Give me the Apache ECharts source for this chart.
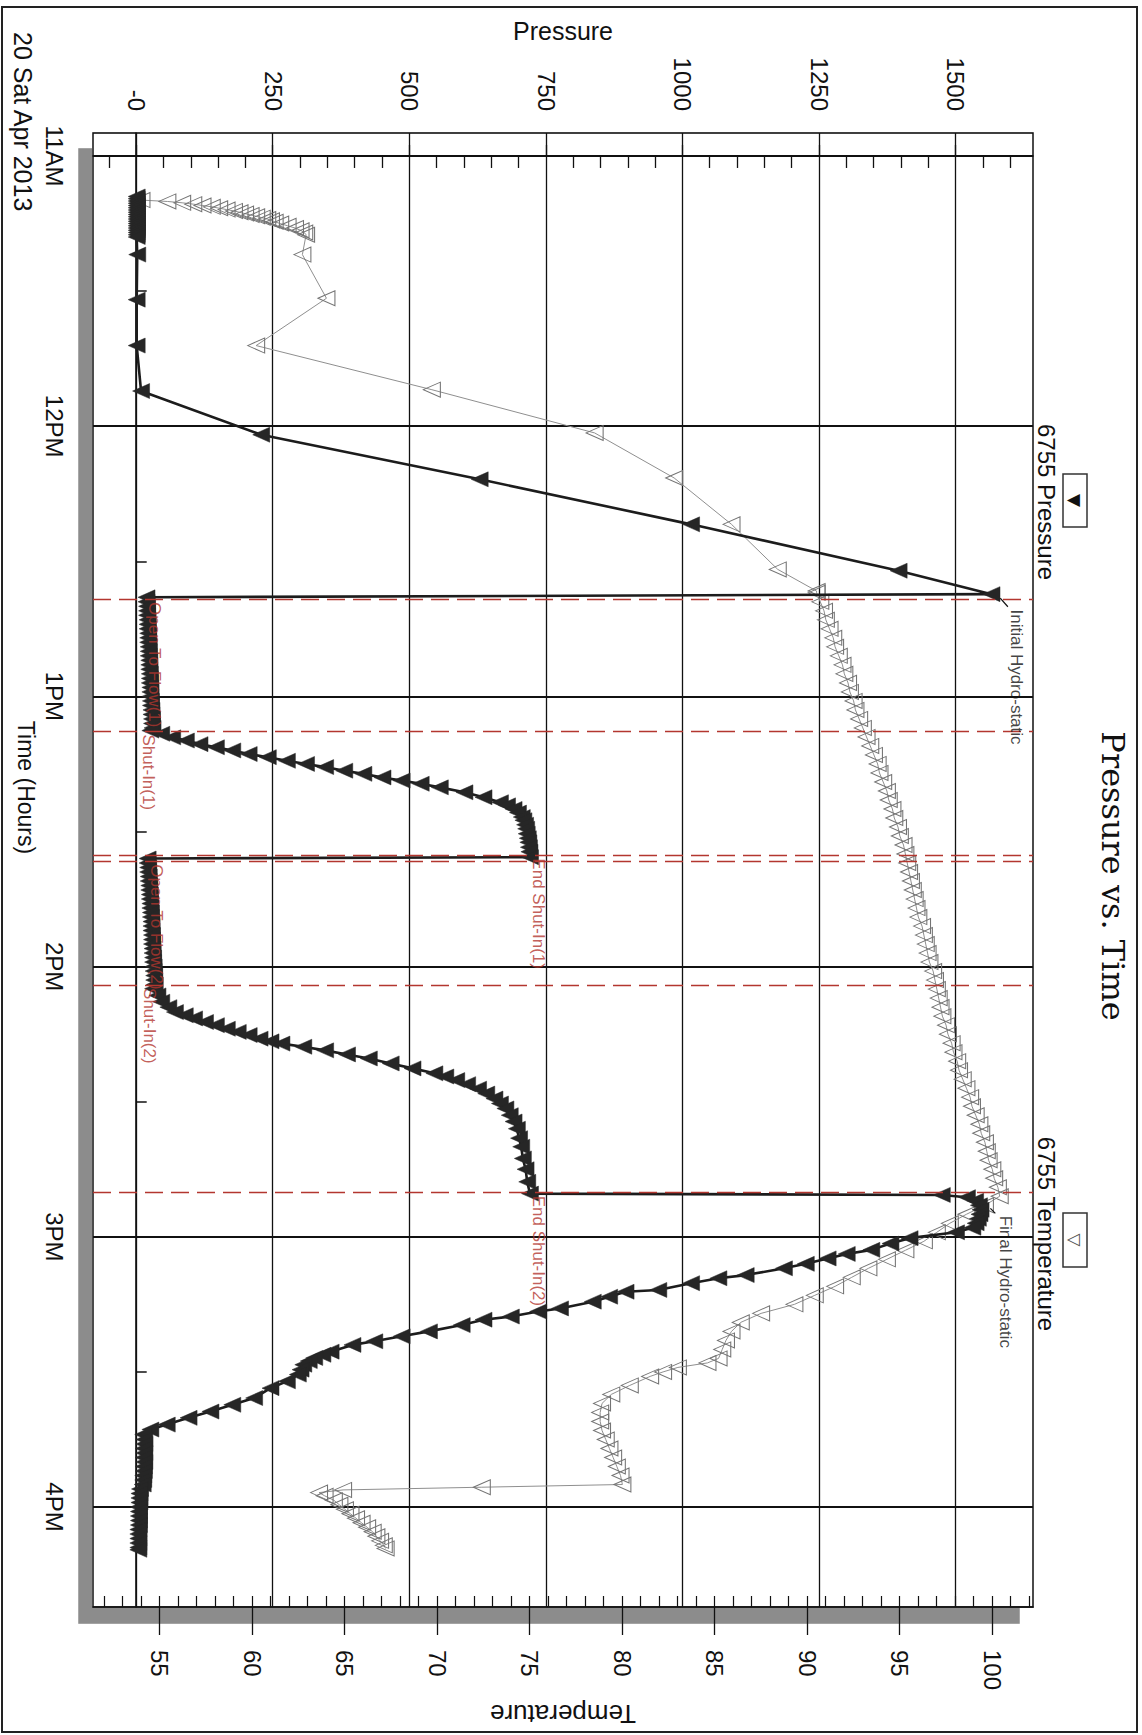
<!DOCTYPE html>
<html>
<head>
<meta charset="utf-8">
<script src="https://cdn.jsdelivr.net/npm/echarts@6/dist/echarts.min.js"></script>
<style>
html,body{margin:0;padding:0;background:#fff;overflow:hidden;width:1142px;height:1735px;}
#chart{position:absolute;left:0;top:0;width:1735px;height:1142px;transform-origin:0 0;transform:translate(1142px,0) rotate(90deg);background:#fff;}
</style>
</head>
<body>
<div id="chart"></div>
<script>
// ---------- axis ticks / labels (time in minutes after 11:00) ----------
const timeTicks = [0, 60, 120, 180, 240, 300];
const timeLabels = ['11AM', '12PM', '1PM', '2PM', '3PM', '4PM'];
const timeMinorTicks = [30, 90, 150, 210, 270];
const pressureTicks = [0, 250, 500, 750, 1000, 1250, 1500];
const pressureLabels = ['-0', '250', '500', '750', '1000', '1250', '1500'];
const pressureMinorTicks = [-50, 50, 100, 150, 200, 300, 350, 400, 450, 550, 600, 650, 700, 800, 850, 900, 950, 1050, 1100, 1150, 1200, 1300, 1350, 1400, 1450, 1550, 1600];
const temperatureTicks = [55, 60, 65, 70, 75, 80, 85, 90, 95, 100];
const temperatureMinorTicks = [52, 53, 54, 55, 56, 57, 58, 59, 60, 61, 62, 63, 64, 65, 66, 67, 68, 69, 70, 71, 72, 73, 74, 75, 76, 77, 78, 79, 80, 81, 82, 83, 84, 85, 86, 87, 88, 89, 90, 91, 92, 93, 94, 95, 96, 97, 98, 99, 100, 101, 102];

// ---------- events ----------
const eventNames = ['Open To Flow(1)', 'Shut-In(1)', 'End Shut-In(1)', 'Open To Flow(2)', 'Shut-In(2)', 'End Shut-In(2)'];
const eventTimes = [98.4, 127.8, 155.3, 156.6, 184.1, 230.2];
const hydroNames = ['Initial Hydro-static', 'Final Hydro-static'];

// ---------- 6755 Pressure  [minutes after 11:00, psi] ----------
const pressureSurvey = [[9.0,0],[9.5,0],[10.0,0],[10.5,0],[11.0,0],[11.5,0],[12.0,0],[12.5,0],[13.0,0],[13.5,0],[14.0,0],[14.5,0],[15.0,0],[15.5,0],[16.0,0],[16.5,0],[17.0,0],[17.5,0],[18.0,0],
  [21.9,1],[31.9,0],[42.1,0],[52.2,8],[61.9,228],[71.8,628],[81.8,1015],[92.1,1395],[97.3,1565]];
const pressureFlow1 = [[98.0,18],[99,18],[100,19],[101,19],[102,19],[103,20],[104,20],[105,20],[106,21],[107,21],[108,21],[109,22],[110,22],[111,22],[112,23],[113,23],[114,23],[115,24],[116,24],[117,24],[118,25],[119,25],[120,25],[121,26],[122,26],[123,27],[124,27],[125,28],[126,28],[127,29]];
const pressureBuildup1 = [[127.6,25],[128.3,45],[129.1,65],[129.8,90],[130.6,115],[131.3,145],[132.0,175],[132.8,205],[133.5,240],[134.3,275],[135.0,310],[135.7,345],[136.5,380],[137.2,415],[138.0,450],[138.7,485],[139.4,520],[140.2,555],[141.3,600],[142.4,635],[143.5,665],[144.2,678],[145.0,690],[145.8,698],[146.8,705],[147.5,708],[148.5,711],[149.4,713],[150.5,714],[151.5,716],[152.4,717],[153.5,718],[154.5,719],[155.7,720]];
const pressureFlow2 = [[156.0,20],[157,20],[158,21],[159,21],[160,22],[161,22],[162,23],[163,23],[164,24],[165,24],[166,25],[167,25],[168,26],[169,26],[170,27],[171,27],[172,27],[173,28],[174,28],[175,28],[176,29],[177,29],[178,30],[179,30],[180,31],[181,31],[182,32],[183,32],[184,33]];
const pressureBuildup2 = [[184.9,30],[186.4,38],[187.8,45],[189.0,58],[190.1,70],[190.8,88],[191.5,105],[192.3,125],[193.0,145],[193.8,165],[194.5,185],[195.2,205],[196.0,225],[196.6,245],[197.1,265],[197.8,305],[198.6,345],[199.5,385],[200.4,425],[201.5,465],[202.6,505],[203.7,545],[204.4,565],[205.2,585],[206.1,605],[207.1,625],[208.2,640],[209.3,655],[210.4,665],[211.5,675],[213.0,683],[214.4,690],[216.0,696],[218.1,700],[220.0,704],[222.6,707],[225.0,712],[227.8,715],[230.4,720]];
const pressureFinal = [[230.7,1474],[231.2,1520],[232,1535],[233,1542],[234,1545],[235,1543],[236,1540],[237,1536],[238,1530],[239,1500]];
const pressurePullout = [[240.3,1415],[241.5,1380],[242.9,1345],[243.8,1300],[244.8,1265],[246.0,1225],[247.0,1185],[248.5,1115],[249.2,1065],[250.3,1015],[251.8,955],[252.2,895],[253.3,865],[254.4,835],[255.9,775],[256.6,735],[257.7,685],[258.4,635],[259.6,595],[261.0,535],[262.1,485],[263.2,435],[264.0,395],[265.5,355],[266.2,340],[266.9,325],[267.6,315],[268.4,305],[269.5,300],[270.6,295],[272.1,275],[273.6,245],[275.8,215],[277.3,175],[278.8,135],[280.2,95],[281.7,55],[282.8,25],[283.9,12]];
const pressureSurface = [[285,14],[286,14],[287,13],[288,14],[289,13],[290,14],[291,13],[292,13],[293,12],[294,12],[295,11],[296,6],[297,5],[298,5],[299,5],[300,4],[301,4],[302,4],[303,4],[304,4],[305,3],[306,3],[307,3],[308,3],[309,3],[309.5,3]];

// ---------- 6755 Temperature  [minutes after 11:00, deg] ----------
const temperatureSurvey = [[9.8,54.0],[10.1,55.4],[10.4,56.2],[10.7,56.8],[11.0,57.3],[11.3,57.8],[11.6,58.2],[11.9,58.6],[12.2,59.0],[12.5,59.3],[12.8,59.6],[13.1,59.9],[13.4,60.2],[13.7,60.5],[14.0,60.8],[14.3,61.0],[14.6,61.2],[15.0,61.5],[15.5,61.9],[16.0,62.3],[16.5,62.6],[17.0,62.8],[17.5,62.9],
  [21.9,62.7],[31.6,64.0],[42.1,60.2],[51.9,69.7],[61.5,78.5],[71.5,82.8],[81.8,85.9],[91.8,88.4],[96.6,90.5]];
const temperatureBand = [[97,90.5],[99,90.7],[101,90.9],[103,91.0],[105,91.2],[107,91.4],[109,91.5],[111,91.7],[113,91.9],[115,92.0],[117,92.2],[119,92.3],[121,92.5],[123,92.6],[125,92.8],[127,93.0],[129,93.2],[131,93.4],[133,93.6],[135,93.8],[137,93.9],[139,94.1],[141,94.3],[143,94.4],[145,94.6],[147,94.7],[149,94.9],[151,95.0],[153,95.2],[155,95.3],[157,95.4],[159,95.5],[161,95.6],[163,95.7],[165,95.8],[167,95.9],[169,96.0],[171,96.2],[173,96.3],[175,96.4],[177,96.5],[179,96.6],[181,96.8],[183,96.9],[185,97.0],[187,97.1],[189,97.2],[191,97.3],[193,97.5],[195,97.6],[197,97.8],[199,97.9],[201,98.1],[203,98.2],[205,98.4],[207,98.6],[209,98.8],[211,98.9],[213,99.1],[215,99.3],[217,99.4],[219,99.6],[221,99.7],[223,99.8],[225,100.0],[227,100.1],[229,100.3],[231,100.4]];
const temperatureDecline = [[233,99.6],[235,98.6],[237,97.7],[239,97.0],[241,96.3],[243,95.3],[245,94.3],[247,93.3],[249,92.4],[251,91.5],[253,90.4],[255,89.3],[257,87.5],[259,86.4],[261,85.9],[263,85.6],[265,85.4],[267,85.2],[268,84.6],[269,83.0],[270,82.2],[271,81.5],[273,80.4],[275,79.4],[277,78.9],[279,78.8],[281,78.8],[283,78.9],[285,79.1],[287,79.3],[289,79.5],[291,79.7],[293,79.9],[295,80.0]];
const temperatureSurface = [[295.6,72.4],[296.2,64.9],[296.8,63.6],[297.5,63.9],[298.5,64.4],[299.5,64.7],[300.5,65.0],[301.5,65.3],[302.5,65.6],[303.5,65.9],[304.5,66.2],[305.5,66.5],[306.5,66.7],[307.5,66.9],[308.5,67.1],[309.2,67.2]];

// ---------- build chart ----------
const pressureData = [].concat(pressureSurvey, pressureFlow1, pressureBuildup1, pressureFlow2, pressureBuildup2, pressureFinal, pressurePullout, pressureSurface);
const temperatureData = [].concat(temperatureSurvey, temperatureBand, temperatureDecline, temperatureSurface);

const FONT = 'Liberation Sans, Arial, sans-serif';
const RED = '#b3362f';

// label anchor levels (psi) for the event texts
const eventLabelLevel = [33, 22, 735, 36, 24, 735];
const eventLabelData = eventNames.map((n, i) => ({ name: n, value: [eventTimes[i], eventLabelLevel[i]] }));

const hydroLabelData = [
  { name: hydroNames[0], value: [100.7, 1611] },
  { name: hydroNames[1], value: [235.3, 1590] }
];

const chart = echarts.init(document.getElementById('chart'), null, { renderer: 'svg', width: 1735, height: 1142 });

const option = {
  animation: false,
  backgroundColor: '#fff',
  title: {
    text: 'Pressure vs. Time',
    left: 871, top: 8, textAlign: 'center',
    textStyle: { fontFamily: 'DejaVu Serif, serif', fontWeight: 'normal', fontSize: 32, color: '#111' }
  },
  grid: {
    left: 133, right: 126, top: 109, bottom: 93,
    show: true, backgroundColor: '#fff', borderColor: '#111', borderWidth: 1.6,
    shadowColor: '#8c8c8c', shadowBlur: 0, shadowOffsetX: 16, shadowOffsetY: 14
  },
  xAxis: [
    {
      type: 'value', min: -5.1, max: 322.2, position: 'bottom',
      axisLine: { show: true, lineStyle: { color: '#111', width: 1.6 } },
      axisTick: { show: true, customValues: timeTicks, length: 21, inside: false, lineStyle: { color: '#111', width: 2 } },
      axisLabel: {
        customValues: timeTicks, margin: 27, fontSize: 24, fontFamily: FONT, color: '#111',
        formatter: v => { const i = timeTicks.indexOf(Math.round(v)); return i >= 0 ? timeLabels[i] : ''; }
      },
      splitLine: { show: true, lineStyle: { color: '#111', width: 2 } },
      name: 'Time (Hours)', nameLocation: 'middle', nameGap: 54,
      nameTextStyle: { fontSize: 23, fontFamily: FONT, color: '#111', padding: [0, 165, 0, 0] }
    },
    {
      type: 'value', min: -5.1, max: 322.2, position: 'bottom',
      axisLine: { show: false },
      axisTick: { show: true, customValues: timeMinorTicks, length: 10, inside: true, lineStyle: { color: '#111', width: 1.5 } },
      axisLabel: { show: false }, splitLine: { show: false }
    }
  ],
  yAxis: [
    {
      type: 'value', min: -80, max: 1641, position: 'left',
      axisLine: { show: true, lineStyle: { color: '#111', width: 1.6 } },
      axisTick: { show: true, customValues: pressureTicks, length: 11, inside: false, lineStyle: { color: '#111', width: 1.3 } },
      axisLabel: {
        customValues: pressureTicks, margin: 22, fontSize: 24, fontFamily: FONT, color: '#111',
        formatter: v => { const i = pressureTicks.indexOf(Math.round(v)); return i >= 0 ? pressureLabels[i] : ''; }
      },
      splitLine: { show: true, lineStyle: { color: '#111', width: 1.3 } },
      name: 'Pressure', nameLocation: 'middle', nameGap: 90, nameRotate: 90,
      nameTextStyle: { fontSize: 25, fontFamily: FONT, color: '#111' }
    },
    {
      type: 'value', min: -80, max: 1641, position: 'left',
      axisLine: { show: false },
      axisTick: { show: true, customValues: pressureMinorTicks, length: 12, inside: true, lineStyle: { color: '#111', width: 1.3 } },
      axisLabel: { show: false }, splitLine: { show: false }
    },
    {
      type: 'value', min: 51.38, max: 102.2, position: 'right',
      axisLine: { show: true, lineStyle: { color: '#111', width: 1.6 } },
      axisTick: { show: true, customValues: temperatureTicks, length: 28, inside: false, lineStyle: { color: '#111', width: 1.3 } },
      axisLabel: { customValues: temperatureTicks, margin: 43, fontSize: 24, fontFamily: FONT, color: '#111' },
      splitLine: { show: false },
      name: 'Temperature', nameLocation: 'middle', nameGap: 94, nameRotate: -90,
      nameTextStyle: { fontSize: 26, fontFamily: FONT, color: '#111' }
    },
    {
      type: 'value', min: 51.38, max: 102.2, position: 'right',
      axisLine: { show: false },
      axisTick: { show: true, customValues: temperatureMinorTicks, length: 11, inside: true, lineStyle: { color: '#111', width: 1.2 } },
      axisLabel: { show: false }, splitLine: { show: false }
    }
  ],
  graphic: [
    { type: 'rect', shape: { x: 7, y: 5, width: 1725, height: 1135 }, style: { fill: 'none', stroke: '#222', lineWidth: 2 }, silent: true },
    { type: 'text', x: 32, y: 1119, style: { text: '20 Sat Apr 2013', fontSize: 25, fontFamily: FONT, fill: '#111', textAlign: 'left', textVerticalAlign: 'middle' } },
    { type: 'rect', shape: { x: 474, y: 55, width: 53, height: 24 }, style: { fill: '#fff', stroke: '#333', lineWidth: 1.5 } },
    { type: 'text', x: 500.5, y: 67, style: { text: '\u25BC', fontSize: 17, fontFamily: 'DejaVu Sans', fill: '#111', textAlign: 'center', textVerticalAlign: 'middle' } },
    { type: 'text', x: 502, y: 96, style: { text: '6755 Pressure', fontSize: 24, fontFamily: FONT, fill: '#111', textAlign: 'center', textVerticalAlign: 'middle' } },
    { type: 'rect', shape: { x: 1213, y: 55, width: 54, height: 24 }, style: { fill: '#fff', stroke: '#333', lineWidth: 1.5 } },
    { type: 'text', x: 1240, y: 67, style: { text: '\u25BD', fontSize: 17, fontFamily: 'DejaVu Sans', fill: '#555', textAlign: 'center', textVerticalAlign: 'middle' } },
    { type: 'text', x: 1234, y: 96, style: { text: '6755 Temperature', fontSize: 24, fontFamily: FONT, fill: '#111', textAlign: 'center', textVerticalAlign: 'middle' } }
  ],
  series: [
    {
      name: 'events', type: 'line', data: [], z: 1,
      markLine: {
        silent: true, symbol: ['none', 'none'], label: { show: false },
        lineStyle: { color: RED, type: [18, 8], width: 1.4 },
        data: eventTimes.map(t => ({ xAxis: t }))
      }
    },
    {
      name: '6755 Temperature', type: 'line', xAxisIndex: 0, yAxisIndex: 2, z: 2,
      data: temperatureData,
      symbol: 'triangle', symbolRotate: 180, symbolSize: [15, 17], showSymbol: true,
      lineStyle: { color: '#8f8f8f', width: 1 },
      itemStyle: { color: 'rgba(255,255,255,0)', borderColor: '#747474', borderWidth: 1 }
    },
    {
      name: '6755 Pressure', type: 'line', xAxisIndex: 0, yAxisIndex: 0, z: 3,
      data: pressureData,
      symbol: 'triangle', symbolRotate: 180, symbolSize: [15, 17], showSymbol: true,
      lineStyle: { color: '#1c1c1c', width: 2.6 },
      itemStyle: { color: '#262626', borderColor: '#262626', borderWidth: 0.5 }
    },
    {
      name: 'eventLabels', type: 'scatter', xAxisIndex: 0, yAxisIndex: 0, z: 10,
      symbolSize: 0, data: eventLabelData,
      label: { show: true, position: 'right', distance: 3, formatter: p => p.name, color: RED, fontSize: 17, fontFamily: FONT }
    },
    {
      name: 'hydroLabels', type: 'scatter', xAxisIndex: 0, yAxisIndex: 0, z: 10,
      symbolSize: 0, data: hydroLabelData,
      label: { show: true, position: 'right', distance: 0, formatter: p => p.name, color: '#111', fontSize: 17, fontFamily: FONT },
      markLine: {
        silent: true, symbol: ['none', 'none'], label: { show: false },
        lineStyle: { color: '#111', type: 'solid', width: 1.2 },
        data: [
          [{ coord: [98.2, 1581] }, { coord: [100.1, 1595] }],
          [{ coord: [233.7, 1563] }, { coord: [234.8, 1572] }]
        ]
      }
    }
  ]
};
chart.setOption(option);
</script>
</body>
</html>
